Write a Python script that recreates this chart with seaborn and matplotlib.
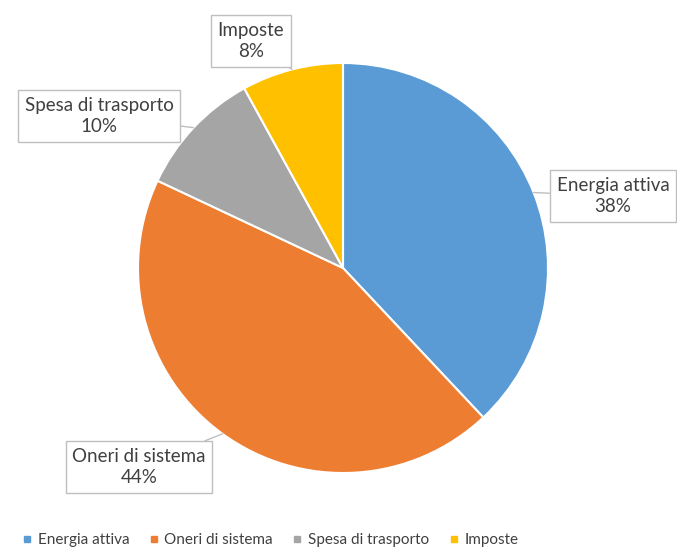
import matplotlib
matplotlib.use("Agg")
import matplotlib.pyplot as plt
from matplotlib.lines import Line2D
import numpy as np
import seaborn as sns

# Composizione della bolletta
categories = ["Energia attiva", "Oneri di sistema", "Spesa di trasporto", "Imposte"]
shares = [38, 44, 10, 8]
colors = ["#5B9BD5", "#ED7D31", "#A5A5A5", "#FFC000"]

sns.set_theme(style="white")
plt.rcParams["font.family"] = ["Lato", "DejaVu Sans"]

W, H = 677, 557
fig = plt.figure(figsize=(W / 100, H / 100), dpi=100)
ax = fig.add_axes([0, 0, 1, 1])
ax.set_xlim(0, W)
ax.set_ylim(0, H)
ax.set_aspect("equal")
ax.axis("off")

cx, cy, r = 343, H - 268, 205
palette = sns.color_palette(colors)
wedges, _ = ax.pie(shares, colors=palette, startangle=90, counterclock=False,
                   center=(cx, cy), radius=r,
                   wedgeprops=dict(edgecolor="white", linewidth=1.5))
ax.set_xlim(0, W)
ax.set_ylim(0, H)

# label boxes (centres in pixel coordinates from top-left)
box_centers = [(613, 196), (139, 467), (99, 116), (251, 41)]
text_color = "#404040"
for w, cat, val, (bx, by) in zip(wedges, categories, shares, box_centers):
    mid = np.deg2rad((w.theta1 + w.theta2) / 2)
    px, py = cx + r * np.cos(mid), cy + r * np.sin(mid)
    ax.annotate(f"{cat}\n{val}%", xy=(px, py), xytext=(bx, H - by),
                ha="center", va="center", fontsize=13.5, color=text_color,
                linespacing=1.3,
                bbox=dict(boxstyle="square,pad=0.35", fc="white", ec="#BFBFBF", lw=1),
                arrowprops=dict(arrowstyle="-", color="#BFBFBF", lw=1,
                                shrinkA=0, shrinkB=0))

handles = [Line2D([0], [0], marker="s", linestyle="", markersize=5,
                  markerfacecolor=c, markeredgecolor=c) for c in palette]
fig.legend(handles, categories, loc="center", bbox_to_anchor=(268 / W, 1 - 540 / H),
           ncol=4, frameon=False, fontsize=11, handletextpad=0.1,
           handlelength=1.2, columnspacing=1.0, labelcolor=text_color)

fig.savefig("out.png", dpi=100, facecolor="white")
